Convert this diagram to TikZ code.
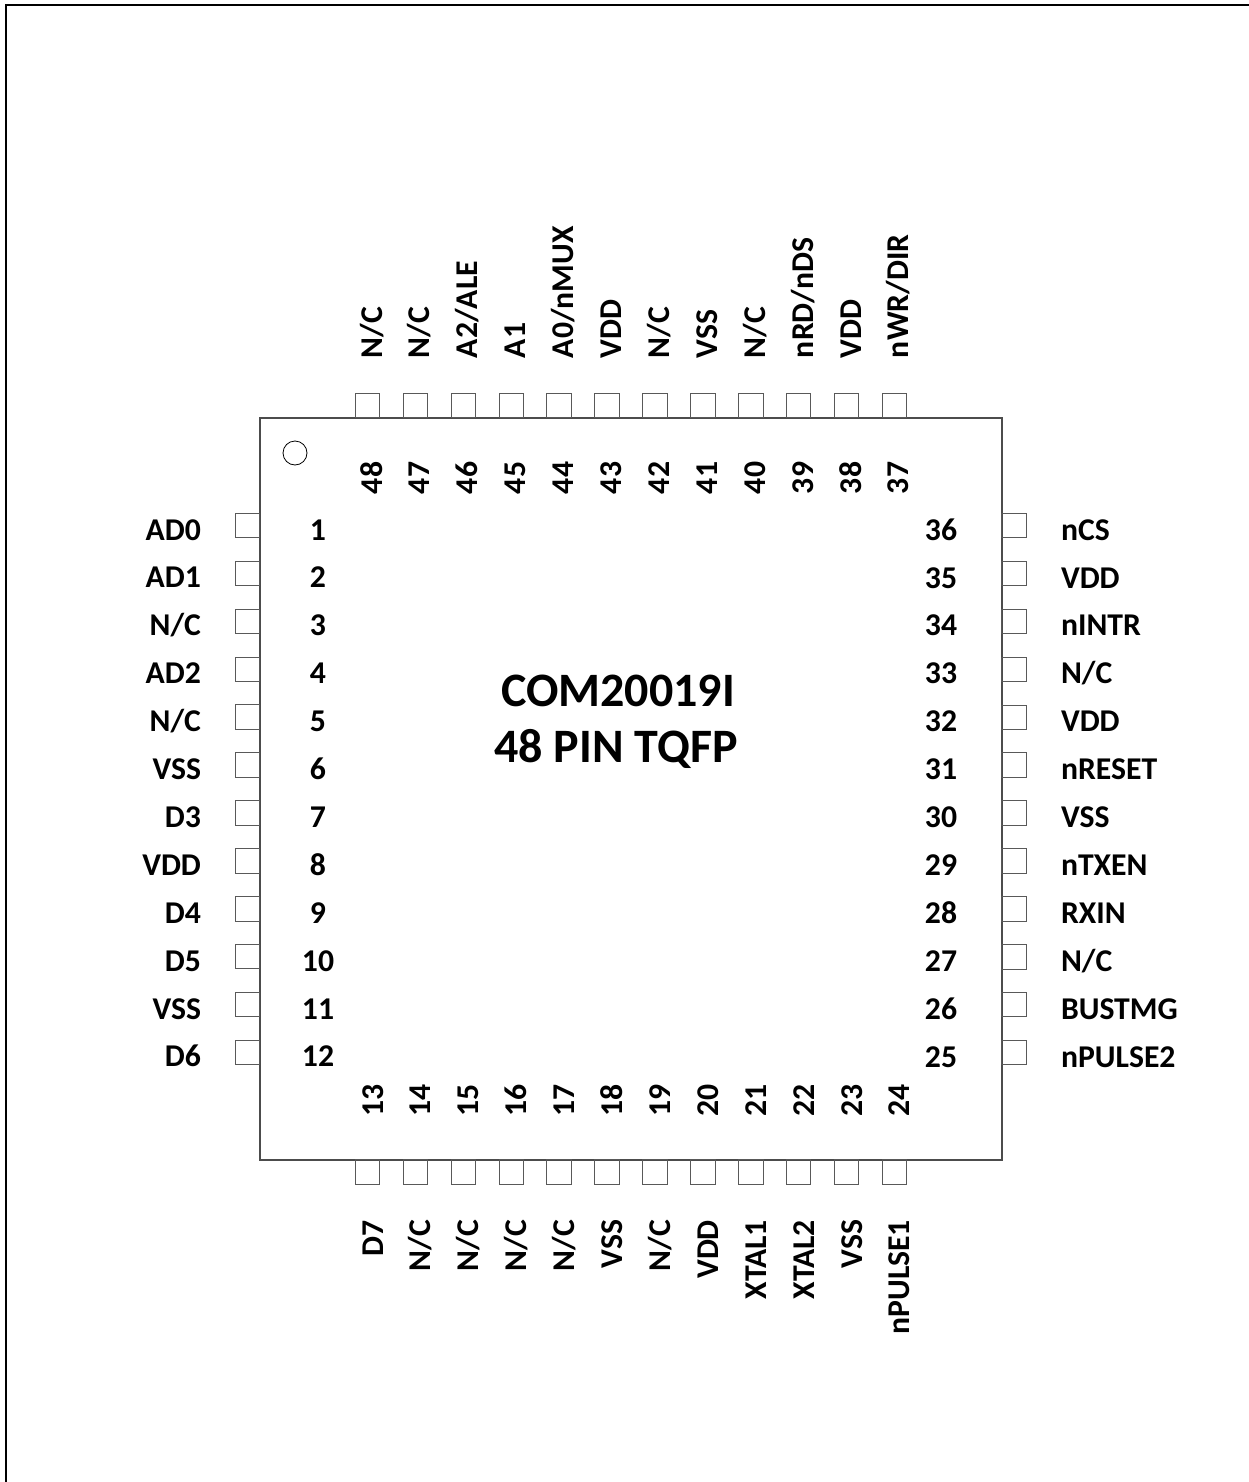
\documentclass[tikz,border=0pt]{standalone}
\usepackage{fontspec}
\setmainfont{Carlito}[BoldFont={Carlito Bold}]
\newcommand{\pxfont}{\fontsize{31.7}{36}\selectfont\bfseries}
\tikzset{
  pinbox/.style={draw=black!65,line width=0.9pt,minimum size=24.5pt,inner sep=0pt,outer sep=0pt},
  pintext/.style={inner sep=0pt,outer sep=0pt,font=\pxfont},
  titletext/.style={inner sep=0pt,font=\fontsize{48}{56}\selectfont\bfseries,anchor=base},
}
\begin{document}
\begin{tikzpicture}[x=1pt,y=-1pt]
\useasboundingbox (0,0) rectangle (1249,1482);
\draw[black,line width=2pt] (6,1482) -- (6,5) -- (1249,5);
\node[draw=black!70,line width=1.1pt,minimum width=742pt,minimum height=742pt,inner sep=0pt] (chip) at (631,789) {};
\node[draw=black,line width=0.8pt,circle,minimum size=24pt,inner sep=0pt] (dot) at (295,453) {};
% left side
\foreach \n/\t [count=\i from 0] in {1/AD0,2/AD1,3/N\slash C,4/AD2,5/N\slash C,6/VSS,7/D3,8/VDD,9/D4,10/D5,11/VSS,12/D6}{
  \pgfmathsetmacro{\yy}{525.5+47.9*\i}
  \node[pinbox] (pin\n) at (247.5,\yy) {};
  \node[pintext,anchor=base east] (lab\n) at (201,\yy+14.5) {\t};
  \node[pintext,anchor=base] (num\n) at (318,\yy+14.5) {\n};
}
% right side
\foreach \n/\t [count=\i from 0] in {25/nPULSE2,26/BUSTMG,27/N\slash C,28/RXIN,29/nTXEN,30/VSS,31/nRESET,32/VDD,33/N\slash C,34/nINTR,35/VDD,36/nCS}{
  \pgfmathsetmacro{\yy}{1052.5-47.9*\i}
  \node[pinbox] (pin\n) at (1014,\yy) {};
  \node[pintext,anchor=base west] (lab\n) at (1061,\yy+14.5) {\t};
  \node[pintext,anchor=base] (num\n) at (941,\yy+14.5) {\n};
}
% bottom side
\foreach \n/\t [count=\i from 0] in {13/D7,14/N\slash C,15/N\slash C,16/N\slash C,17/N\slash C,18/VSS,19/N\slash C,20/VDD,21/XTAL1,22/XTAL2,23/VSS,24/nPULSE1}{
  \pgfmathsetmacro{\xx}{367.5+47.9*\i}
  \node[pinbox] (pin\n) at (\xx,1172) {};
  \node[pintext,rotate=90,anchor=base east] (lab\n) at (\xx+15.5,1220) {\t};
  \node[pintext,rotate=90,anchor=base] (num\n) at (\xx+15.5,1100) {\n};
}
% top side
\foreach \n/\t [count=\i from 0] in {48/N\slash C,47/N\slash C,46/A2\slash ALE,45/A1,44/A0\slash nMUX,43/VDD,42/N\slash C,41/VSS,40/N\slash C,39/nRD\slash nDS,38/VDD,37/nWR\slash DIR}{
  \pgfmathsetmacro{\xx}{367.5+47.9*\i}
  \node[pinbox] (pin\n) at (\xx,405.5) {};
  \node[pintext,rotate=90,anchor=base west] (lab\n) at (\xx+14.5,358) {\t};
  \node[pintext,rotate=90,anchor=base] (num\n) at (\xx+14.5,478) {\n};
}
\node[titletext] (title1) at (618,706) {COM20019I};
\node[titletext] (title2) at (616,762) {48 PIN TQFP};
\end{tikzpicture}
\end{document}
